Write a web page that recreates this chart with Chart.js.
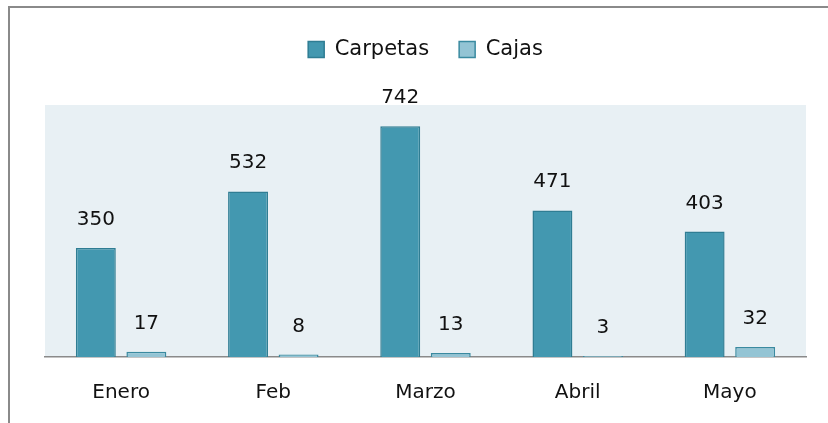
<!DOCTYPE html>
<html>
<head>
<meta charset="utf-8">
<script src="https://cdn.jsdelivr.net/npm/chart.js@4.4.0/dist/chart.umd.min.js"></script>
<style>
  html, body { margin: 0; padding: 0; background: #fff; overflow: hidden; }
  .frame { position: absolute; left: 8px; top: 6px; width: 900px; height: 500px; border: 2px solid #8a8a8a; }
  .wrap { position: absolute; left: 0; top: 0; width: 828px; height: 423px; }
</style>
</head>
<body>
<div class="frame"></div>
<div class="wrap"><canvas id="chart" width="828" height="423"></canvas></div>
<script>
const months = ['Enero', 'Feb', 'Marzo', 'Abril', 'Mayo'];
const carpetas = [350, 532, 742, 471, 403];
const cajas = [17, 8, 13, 3, 32];

// plot background + value labels
const plotBg = {
  id: 'plotBg',
  beforeDraw(chart) {
    const { ctx, chartArea: a } = chart;
    ctx.save();
    ctx.fillStyle = '#e8f0f4';
    ctx.fillRect(a.left, a.top, a.right - a.left, a.bottom - a.top);
    ctx.restore();
  },
  afterDatasetsDraw(chart) {
    const ctx = chart.ctx;
    ctx.save();
    ctx.font = '20px "DejaVu Sans"';
    ctx.fillStyle = '#111';
    ctx.textAlign = 'center';
    ctx.textBaseline = 'alphabetic';
    chart.data.datasets.forEach((ds, i) => {
      chart.getDatasetMeta(i).data.forEach((bar, j) => {
        ctx.fillText(ds.data[j], bar.x, bar.y - 23);
      });
    });
    ctx.restore();
  }
};

// leave more room under the legend
const legendGap = {
  id: 'legendGap',
  beforeInit(chart) {
    const fit = chart.legend.fit;
    chart.legend.fit = function () {
      fit.bind(chart.legend)();
      this.height += 35;
    };
  }
};

new Chart(document.getElementById('chart').getContext('2d'), {
  type: 'bar',
  data: {
    labels: months,
    datasets: [
      {
        label: 'Carpetas',
        data: carpetas,
        backgroundColor: '#4398b0',
        borderColor: '#2f7d93',
        borderWidth: 1.5,
      },
      {
        label: 'Cajas',
        data: cajas,
        backgroundColor: '#93c4d4',
        borderColor: '#3a8aa0',
        borderWidth: 1.5,
      },
    ],
  },
  options: {
    responsive: false,
    animation: false,
    categoryPercentage: 0.664,
    barPercentage: 0.79,
    layout: { padding: { left: 45, right: 22, top: 9, bottom: 0 } },
    plugins: {
      legend: {
        position: 'top',
        labels: {
          font: { family: 'DejaVu Sans', size: 21 },
          color: '#111',
          boxWidth: 16,
          boxHeight: 16,
          padding: 30,
        },
      },
      tooltip: { enabled: false },
    },
    scales: {
      x: {
        grid: { display: false, drawTicks: false },
        border: { color: '#8a8a8a', width: 1.5 },
        ticks: { font: { family: 'DejaVu Sans', size: 20 }, color: '#111', padding: 24 },
        afterFit(scale) { scale.height = 66; },
      },
      y: {
        display: false,
        min: 0,
        max: 810,
      },
    },
  },
  plugins: [plotBg, legendGap],
});
</script>
</body>
</html>
